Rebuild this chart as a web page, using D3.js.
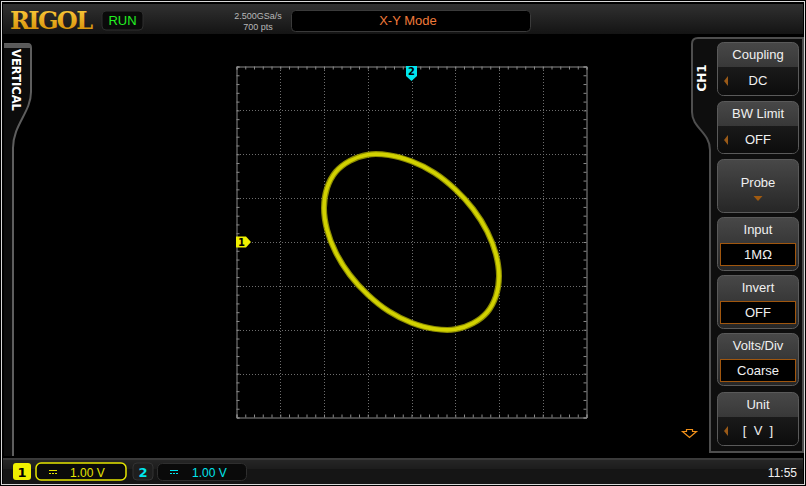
<!DOCTYPE html>
<html><head><meta charset="utf-8">
<script src="https://cdn.jsdelivr.net/npm/d3@7/dist/d3.min.js"></script>
<style>html,body{margin:0;padding:0;background:#000;}svg{display:block;}</style>
</head><body>
<svg id="c" width="806" height="486"></svg>
<script>
// ---- data ----
const xVolts = [0.00,0.52,1.00,1.41,1.73,1.93,2.00,1.93,1.73,1.41,1.00,0.52,0.00,-0.52,-1.00,-1.41,-1.73,-1.93,-2.00,-1.93,-1.73,-1.41,-1.00,-0.52];
const yVolts = [1.84,1.58,1.20,0.75,0.24,-0.28,-0.78,-1.23,-1.60,-1.85,-1.99,-1.98,-1.84,-1.58,-1.20,-0.75,-0.24,0.28,0.78,1.23,1.60,1.85,1.99,1.98];
const divTicks = [-4,-3,-2,-1,0,1,2,3,4];
const menuTitles = ["Coupling","BW Limit","Probe","Input","Invert","Volts/Div","Unit"];
const menuValues = ["DC","OFF","","1MΩ","OFF","Coarse","[  V  ]"];
const channelScales = ["1.00 V","1.00 V"];
const sampleRate = "2.500GSa/s", memDepth = "700 pts", modeLabel = "X-Y Mode", clock = "11:55";

const svg = d3.select("#c");
const defs = svg.append("defs");
function lg(id, stops, vertical=true){
  const g = defs.append("linearGradient").attr("id",id).attr("x1",0).attr("y1",0).attr("x2",vertical?0:1).attr("y2",vertical?1:0);
  stops.forEach(s=>g.append("stop").attr("offset",s[0]).attr("stop-color",s[1]));
}
lg("topbar",[[0,"#303030"],[1,"#141414"]]);
lg("btnTop",[[0,"#484848"],[1,"#262626"]]);
lg("btnBot",[[0,"#1a1a1a"],[1,"#0c0c0c"]]);
lg("botStrip",[[0,"#3c3c3c"],[1,"#262626"]]);
lg("logo",[[0,"#ffd040"],[1,"#d08800"]]);

svg.append("rect").attr("width",806).attr("height",486).attr("fill","#000");
svg.append("rect").attr("x",1.5).attr("y",1.5).attr("width",803).attr("height",483).attr("fill","none").attr("stroke","#d8d8d8").attr("stroke-width",1);

// top bar
svg.append("rect").attr("x",3).attr("y",4).attr("width",800).attr("height",30).attr("fill","url(#topbar)");
svg.append("text").attr("x",10).attr("y",29).text("RIGOL")
  .attr("font-family","DejaVu Serif").attr("font-weight","bold").attr("font-size",24).attr("fill","url(#logo)").attr("textLength",83);
svg.append("rect").attr("x",102).attr("y",11).attr("width",41).attr("height",19).attr("rx",4).attr("fill","#0a0a0a").attr("stroke","#2e2e2e");
svg.append("text").attr("x",122.5).attr("y",25).attr("text-anchor","middle").text("RUN")
  .attr("font-family","Liberation Sans").attr("font-size",13).attr("fill","#22f022");
svg.append("text").attr("x",258).attr("y",19).attr("text-anchor","middle").text(sampleRate)
  .attr("font-family","Liberation Sans").attr("font-size",9).attr("fill","#b8b8b8");
svg.append("text").attr("x",258).attr("y",30).attr("text-anchor","middle").text(memDepth)
  .attr("font-family","Liberation Sans").attr("font-size",9).attr("fill","#b8b8b8");
svg.append("rect").attr("x",291.5).attr("y",10.5).attr("width",239).attr("height",21).attr("rx",4).attr("fill","#000").attr("stroke","#3a3a3a");
svg.append("text").attr("x",408).attr("y",25).attr("text-anchor","middle").text(modeLabel)
  .attr("font-family","Liberation Sans").attr("font-size",13).attr("fill","#ef7a3a");

// left VERTICAL tab
svg.append("path").attr("d","M4,44 L28,44 Q31,44 31,48 L31,92 C31,112 13,125 13,148 L13,456 L4,456 Z")
  .attr("fill","#0c0c0c");
svg.append("path").attr("d","M4,44 L28,44 Q31,44 31,48 L31,92 C31,112 13,125 13,148 L13,456")
  .attr("fill","none").attr("stroke","#5e5e5e").attr("stroke-width",2);
svg.append("rect").attr("x",4).attr("y",44).attr("width",26).attr("height",4).attr("fill","#5a5a5a");
svg.append("text").attr("transform","translate(12,80) rotate(90)").attr("text-anchor","middle").text("VERTICAL")
  .attr("font-family","DejaVu Sans").attr("font-weight","bold").attr("font-size",11.5).attr("fill","#fff");

// right CH1 panel
svg.append("path").attr("d","M803,38 L698,38 Q692,38 692,44 L692,112 C692,128 710,132 710,150 L710,452 L803,452 Z")
  .attr("fill","#0e0e0e").attr("stroke","#4e4e4e").attr("stroke-width",2);
svg.append("text").attr("transform","translate(706,78) rotate(-90)").attr("text-anchor","middle").text("CH1")
  .attr("font-family","DejaVu Sans").attr("font-weight","bold").attr("font-size",12).attr("fill","#fff");

const btnY = [[42,95],[101,153],[159,212],[217,270],[275,328],[333,385],[392,445]];
const bx = 717, bw = 81;
btnY.forEach((b,i)=>{
  const g = svg.append("g");
  const h = b[1]-b[0];
  g.append("rect").attr("x",bx+0.5).attr("y",b[0]+0.5).attr("width",bw).attr("height",h).attr("rx",6)
    .attr("fill", "url(#btnTop)").attr("stroke","#5a5a5a");
  const isBox = (i>=3 && i<=5);
  const isLow = (i===0 || i===1 || i===6);
  if(isLow){
    g.append("path").attr("d",`M${bx+1},${b[0]+25} L${bx+bw},${b[0]+25} L${bx+bw},${b[1]-6} Q${bx+bw},${b[1]} ${bx+bw-6},${b[1]} L${bx+7},${b[1]} Q${bx+1},${b[1]} ${bx+1},${b[1]-6} Z`)
      .attr("fill","url(#btnBot)");
  }
  if(i===2){
    g.append("text").attr("x",bx+bw/2+0.5).attr("y",b[0]+28).attr("text-anchor","middle").text(menuTitles[i])
      .attr("font-family","Liberation Sans").attr("font-size",13).attr("fill","#f0f0f0");
    g.append("path").attr("d",`M${bx+bw/2-4},${b[0]+37} L${bx+bw/2+5},${b[0]+37} L${bx+bw/2+0.5},${b[0]+42} Z`).attr("fill","#a05a10");
    return;
  }
  g.append("text").attr("x",bx+bw/2+0.5).attr("y",b[0]+17).attr("text-anchor","middle").text(menuTitles[i])
    .attr("font-family","Liberation Sans").attr("font-size",13).attr("fill","#f0f0f0");
  if(isBox){
    g.append("rect").attr("x",720.5).attr("y",b[0]+26.5).attr("width",75).attr("height",22).attr("fill","#000").attr("stroke","#a0560e");
    g.append("text").attr("x",bx+bw/2+0.5).attr("y",b[0]+42).attr("text-anchor","middle").text(menuValues[i])
      .attr("font-family","Liberation Sans").attr("font-size",13).attr("fill","#f0f0f0");
  } else {
    g.append("path").attr("d",`M${bx+7},${b[0]+39} L${bx+11},${b[0]+34} L${bx+11},${b[0]+44} Z`).attr("fill","#9a5a18");
    g.append("text").attr("x",bx+bw/2+0.5).attr("y",b[0]+43).attr("text-anchor","middle").text(menuValues[i])
      .attr("font-family","Liberation Sans").attr("font-size",13).attr("fill","#f0f0f0").attr("xml:space","preserve");
  }
});

// orange hollow arrow
svg.append("path").attr("d","M686.5,429.5 L692.5,429.5 L692.5,431.5 L696.5,431.5 L689.5,437.5 L682.5,431.5 L686.5,431.5 Z")
  .attr("fill","none").attr("stroke","#f0901a").attr("stroke-width",1.2);

// bottom bar
svg.append("rect").attr("x",3).attr("y",458).attr("width",800).attr("height",11).attr("fill","url(#botStrip)");
svg.append("rect").attr("x",3).attr("y",469).attr("width",800).attr("height",15).attr("fill","#161616");
svg.append("rect").attr("x",3).attr("y",460).attr("width",800).attr("height",24).attr("fill","#141414").attr("opacity",0.5);
svg.append("rect").attr("x",13).attr("y",463).attr("width",18).attr("height",17).attr("rx",3).attr("fill","#f0f000");
svg.append("text").attr("x",22).attr("y",477).attr("text-anchor","middle").text("1").attr("font-family","DejaVu Sans").attr("font-weight","bold").attr("font-size",13).attr("fill","#000");
svg.append("rect").attr("x",36).attr("y",463).attr("width",90).attr("height",17).attr("rx",5).attr("fill","#0a0a0a").attr("stroke","#e6e600").attr("stroke-width",1.5);
svg.append("rect").attr("x",133).attr("y",463).attr("width",20).attr("height",17).attr("rx",4).attr("fill","#1e1e1e").attr("stroke","#333");
svg.append("text").attr("x",143).attr("y",477).attr("text-anchor","middle").text("2").attr("font-family","DejaVu Sans").attr("font-weight","bold").attr("font-size",13).attr("fill","#00e6ee");
svg.append("rect").attr("x",157.5).attr("y",463.5).attr("width",89).attr("height",17).attr("rx",5).attr("fill","#0a0a0a").attr("stroke","#2e2e2e");
[[49,"#e6e600",70,channelScales[0]],[170,"#00e6ee",192,channelScales[1]]].forEach(c=>{
  svg.append("line").attr("x1",c[0]).attr("x2",c[0]+8).attr("y1",470.5).attr("y2",470.5).attr("stroke",c[1]);
  svg.append("line").attr("x1",c[0]).attr("x2",c[0]+8).attr("y1",473.5).attr("y2",473.5).attr("stroke",c[1]).attr("stroke-dasharray","2,1");
  svg.append("text").attr("x",c[2]).attr("y",477).text(c[3]).attr("font-family","Liberation Sans").attr("font-size",12).attr("fill",c[1]);
});
svg.append("text").attr("x",797).attr("y",477).attr("text-anchor","end").text(clock).attr("font-family","Liberation Sans").attr("font-size",12).attr("fill","#f0f0f0");

// ---- plot grid ----
const x = d3.scaleLinear().domain([-4,4]).range([236.5,586.5]);
const y = d3.scaleLinear().domain([-4,4]).range([417.5,66.5]);
const grid = svg.append("g");
divTicks.slice(1,-1).forEach(v=>{
  grid.append("line").attr("x1",Math.round(x(v))+0.5).attr("x2",Math.round(x(v))+0.5).attr("y1",67).attr("y2",417)
    .attr("stroke","#6e6e6e").attr("stroke-dasharray","1,2");
  grid.append("line").attr("y1",Math.round(y(v))+0.5).attr("y2",Math.round(y(v))+0.5).attr("x1",237).attr("x2",586)
    .attr("stroke","#6e6e6e").attr("stroke-dasharray","1,2");
});
const minor = d3.range(-4,4.001,0.2);
const axT = d3.axisTop(x).tickValues(minor).tickSize(-3).tickFormat("");
const axB = d3.axisBottom(x).tickValues(minor).tickSize(-3).tickFormat("");
const axL = d3.axisLeft(y).tickValues(minor).tickSize(-3).tickFormat("");
const axR = d3.axisRight(y).tickValues(minor).tickSize(-3).tickFormat("");
[[axT,"translate(0,66.5)"],[axB,"translate(0,417.5)"],[axL,"translate(236.5,0)"],[axR,"translate(586.5,0)"]].forEach(a=>{
  const g = svg.append("g").attr("transform",a[1]).call(a[0]);
  g.selectAll("path,line").attr("stroke","#8a8a8a");
});

// ---- trace ----
const pts = xVolts.map((v,i)=>[x(v),y(yVolts[i])]);
const line = d3.line().curve(d3.curveCatmullRomClosed.alpha(0.5));
svg.append("path").attr("d",line(pts)).attr("fill","none").attr("stroke","#a4a400").attr("stroke-width",6).attr("opacity",0.85);
svg.append("path").attr("d",line(pts)).attr("fill","none").attr("stroke","#d2d200").attr("stroke-width",3.6);

// ---- channel markers ----
const y0 = y(0), x0 = x(0);
svg.append("path").attr("d",`M236,${y0-5.5} L246,${y0-5.5} L251,${y0} L246,${y0+5.5} L236,${y0+5.5} Z`).attr("fill","#f0f000");
svg.append("text").attr("x",241.5).attr("y",y0+4).attr("text-anchor","middle").text("1").attr("font-family","DejaVu Sans").attr("font-weight","bold").attr("font-size",10).attr("fill","#000");
svg.append("path").attr("d",`M${x0-5.5},66 L${x0+5.5},66 L${x0+5.5},76 L${x0},81 L${x0-5.5},76 Z`).attr("fill","#00e6ee");
svg.append("text").attr("x",x0).attr("y",75).attr("text-anchor","middle").text("2").attr("font-family","DejaVu Sans").attr("font-weight","bold").attr("font-size",10).attr("fill","#000");
</script>
</body></html>
